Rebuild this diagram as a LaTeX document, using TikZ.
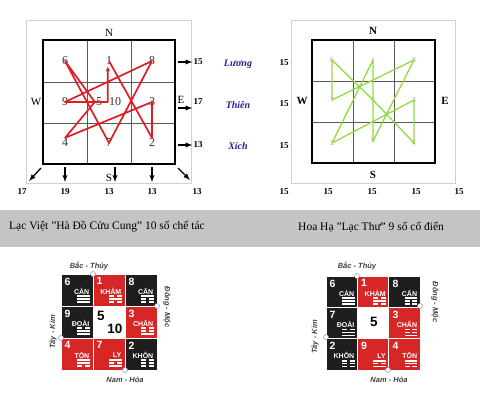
\documentclass[tikz,border=0pt]{standalone}
\usepackage{fontspec}
\setmainfont{Liberation Serif}
\newfontfamily\cungfont{Liberation Sans}
\usetikzlibrary{arrows.meta,positioning}
\definecolor{cungred}{RGB}{214,38,38}
\definecolor{cungblack}{RGB}{30,30,30}
\definecolor{pathred}{RGB}{222,30,36}
\definecolor{pathgreen}{RGB}{146,220,66}
\definecolor{labelblue}{RGB}{32,32,150}
\definecolor{bandgray}{RGB}{196,196,196}
\tikzset{>=latex}
\tikzset{
	frame/.style={draw=black!18, line width=0.9pt},
	board/.style={draw=black, line width=1.4pt},
	gridline/.style={draw=black!65, line width=0.8pt},
	hanum/.style={text=black!80, font=\fontsize{12}{12}\selectfont, inner sep=1pt},
	lacnum/.style={text=black!35, font=\fontsize{7.5}{7.5}\selectfont, inner sep=0.5pt},
	dirlabel/.style={font=\fontsize{11}{11}\selectfont, inner sep=1pt},
	dirbold/.style={font=\bfseries\fontsize{11}{11}\selectfont, inner sep=1pt},
	sumlabel/.style={font=\bfseries\fontsize{9}{9}\selectfont, inner sep=1pt},
	sumarrow/.style={->, line width=1.3pt},
	saolabel/.style={text=labelblue, font=\bfseries\itshape\fontsize{10}{10}\selectfont},
	caption/.style={font=\fontsize{11.5}{11.5}\selectfont, anchor=west, inner sep=0pt},
	cungnum/.style={text=white, font=\cungfont\bfseries\fontsize{10.5}{10.5}\selectfont, inner sep=0pt, anchor=north west},
	cungname/.style={text=white, font=\cungfont\bfseries\fontsize{7}{7}\selectfont, inner sep=0pt, anchor=east},
	hao/.style={draw=white, line width=1.4pt},
	phuong/.style={text=black!75, font=\cungfont\bfseries\itshape\fontsize{7.5}{7.5}\selectfont, inner sep=0pt},
	moc/.style={circle, draw=black!40, fill=white, line width=0.5pt, inner sep=0pt, minimum size=5pt}
}
% one line of a trigram: left end, solid (1) or broken (0)
\newcommand\haoline[3]{%
	\ifnum#3=1
		\draw[hao] (#1,#2) -- ++(12.5,0);
	\else
		\draw[hao] (#1,#2) -- ++(5,0);
		\draw[hao] ({#1+7.5},#2) -- ++(5,0);
	\fi}
% one cell of the bagua board
\newcommand\cungcell[9]{%
	\begin{scope}[shift={({\gx+#1*\gp},{\gy+#2*\gp})}]
		\fill[#3] (0.5,0.5) rectangle ({\gp-0.5},{\gp-0.5});
		\node[cungnum] (#9n#4) at (3.5,3.5) {#4};
		\node[cungname] (#9t#4) at (28.5,17) {#5};
		\haoline{16}{22}{#6}
		\haoline{16}{24.9}{#7}
		\haoline{16}{27.8}{#8}
	\end{scope}}

\begin{document}
\begin{tikzpicture}[x=1pt,y=-1pt]
	\useasboundingbox (0,0) rectangle (480,394);

	% Ha Do board
	\draw[frame] (26,20) rectangle (191,183);
	\draw[gridline] (87,40) -- (87,164) (131,40) -- (131,164) (43,82) -- (175,82) (43,123) -- (175,123);
	\draw[board] (43,40) rectangle (175,164);

	\node[hanum] (h6) at (65,61) {6};
	\node[hanum] (h1) at (109,61) {1};
	\node[hanum] (h8) at (152,61) {8};
	\node[hanum] (h9) at (65,102) {9};
	\node[hanum] (h5) at (99,102) {5};
	\node[hanum] (h10) at (115,102) {10};
	\node[hanum] (h3) at (152,102) {3};
	\node[hanum] (h4) at (65,143) {4};
	\node[hanum] (h7) at (109,143) {7};
	\node[hanum] (h2) at (152,143) {2};

	\draw[pathred, line width=1.7pt, line join=round, -{Latex[length=5pt,width=4.5pt]}]
		(h1.center) -- (h2.north) -- (h3.center) -- (h4.north) -- (h5.west) -- (h6.center)
		-- (h7.center) -- (h8.center) -- (h9.center) -- (h10.west) -- (h10.west |- h1.south);

	\node[dirlabel] (hN) at (109,33) {N};
	\node[dirlabel] (hW) at (36,102) {W};
	\node[dirlabel] (hE) at (181,100) {E};
	\node[dirlabel] (hS) at (109,178) {S};

	% row sums
	\node[sumlabel] (hr1) at (198,62) {15};
	\node[sumlabel] (hr2) at (198,102) {17};
	\node[sumlabel] (hr3) at (198,145) {13};
	\coordinate (ha1) at (178,62);
	\coordinate (ha2) at (178,108);
	\coordinate (ha3) at (178,145);
	\draw[sumarrow] (ha1) -- (hr1.west);
	\draw[sumarrow] (ha2) -- (ha2 -| hr2.west);
	\draw[sumarrow] (ha3) -- (hr3.west);

	% column sums
	\node[sumlabel] (hb1) at (22,192) {17};
	\node[sumlabel] (hb2) at (65,192) {19};
	\node[sumlabel] (hb3) at (109,192) {13};
	\node[sumlabel] (hb4) at (152,192) {13};
	\node[sumlabel] (hb5) at (197,192) {13};
	\coordinate (hc1) at (41,168);
	\coordinate (hc2) at (65,167);
	\coordinate (hc3) at (115,167);
	\coordinate (hc4) at (152,167);
	\coordinate (hc5) at (178,168);
	\draw[sumarrow] (hc1) -- ++(-12,13);
	\draw[sumarrow] (hc2) -- ++(0,15);
	\draw[sumarrow] (hc3) -- ++(0,15);
	\draw[sumarrow] (hc4) -- ++(0,15);
	\draw[sumarrow] (hc5) -- ++(12,12);

	% sao names
	\node[saolabel] (sLuong) at (238,64) {Lương};
	\node[saolabel] (sThien) at (238,105) {Thiên};
	\node[saolabel] (sXich) at (238,146) {Xích};

	% Lac Thu board
	\draw[frame] (291,20) rectangle (455,183);
	\draw[gridline] (353,40) -- (353,163) (394,40) -- (394,163) (312,81) -- (435,81) (312,122) -- (435,122);
	\draw[board] (312,40) rectangle (435,163);

	\node[lacnum] (l6) at (332,60) {6};
	\node[lacnum] (l1) at (373,60) {1};
	\node[lacnum] (l8) at (414,60) {8};
	\node[lacnum] (l7) at (332,100) {7};
	\node[lacnum] (l5) at (373,100) {5};
	\node[lacnum] (l3) at (414,100) {3};
	\node[lacnum] (l2) at (332,143) {2};
	\node[lacnum] (l9) at (373,141) {9};
	\node[lacnum] (l4) at (414,143) {4};

	\draw[pathgreen, line width=1.3pt, line join=round]
		(l1.center) -- (l2.center) -- (l3.center) -- (l4.center) -- (l5.center) -- (l6.center)
		-- (l7.center) -- (l8.center) -- (l9.center) -- cycle;

	\node[dirbold] (lN) at (373,31) {N};
	\node[dirbold] (lW) at (302,101) {W};
	\node[dirbold] (lE) at (445,101) {E};
	\node[dirbold] (lS) at (373,175) {S};

	\node[sumlabel] (lr1) at (284,63) {15};
	\node[sumlabel] (lr2) at (284,104) {15};
	\node[sumlabel] (lr3) at (284,146) {15};
	\node[sumlabel] (lb1) at (284,192) {15};
	\node[sumlabel] (lb2) at (328,192) {15};
	\node[sumlabel] (lb3) at (372,192) {15};
	\node[sumlabel] (lb4) at (416,192) {15};
	\node[sumlabel] (lb5) at (459,192) {15};

	% captions
	\fill[bandgray] (0,210) rectangle (480,247);
	\node[caption] (capHD) at (9,227) {Lạc Việt "Hà Đồ Cửu Cung" 10 số chế tác};
	\node[caption] (capLT) at (298,227) {Hoa Hạ "Lạc Thư" 9 số cổ điển};

	% bagua, Ha Do order
	\def\gx{61}\def\gy{274}\def\gp{32}
	\foreach \c/\r/\col/\num/\name/\ta/\tb/\tc in {
		0/0/cungblack/6/CÀN/1/1/1, 1/0/cungred/1/KHẢM/0/1/0, 2/0/cungblack/8/CẤN/1/0/0,
		0/1/cungblack/9/ĐOÀI/0/1/1, 2/1/cungred/3/CHẤN/0/0/1,
		0/2/cungred/4/TỐN/1/1/0, 1/2/cungred/7/LY/1/0/1, 2/2/cungblack/2/KHÔN/0/0/0}
		{\cungcell{\c}{\r}{\col}{\num}{\name}{\ta}{\tb}{\tc}{hd}}
	\node[cungnum, text=black, font=\cungfont\bfseries\fontsize{13.5}{13.5}\selectfont, anchor=center] (hdc5) at (101,316) {5};
	\node[cungnum, text=black, font=\cungfont\bfseries\fontsize{13.5}{13.5}\selectfont, anchor=center] (hdc10) at (115,329) {10};
	\node[moc] (hdB) at (93,274) {};
	\node[moc] (hdD) at (157,306) {};
	\node[moc] (hdT) at (61,338) {};
	\node[moc] (hdNa) at (125,370) {};
	\node[phuong] (hdBt) at (89,266) {Bắc - Thủy};
	\node[phuong] (hdNt) at (125,380) {Nam - Hỏa};
	\node[phuong, rotate=-90] (hdDt) at (167,307) {Đông - Mộc};
	\node[phuong, rotate=90] (hdTt) at (53,332) {Tây - Kim};

	% bagua, Lac Thu order
	\def\gx{326}\def\gy{276}\def\gp{31.4}
	\foreach \c/\r/\col/\num/\name/\ta/\tb/\tc in {
		0/0/cungblack/6/CÀN/1/1/1, 1/0/cungred/1/KHẢM/0/1/0, 2/0/cungblack/8/CẤN/1/0/0,
		0/1/cungblack/7/ĐOÀI/0/1/1, 2/1/cungred/3/CHẤN/0/0/1,
		0/2/cungblack/2/KHÔN/0/0/0, 1/2/cungred/9/LY/1/0/1, 2/2/cungred/4/TỐN/1/1/0}
		{\cungcell{\c}{\r}{\col}{\num}{\name}{\ta}{\tb}{\tc}{lt}}
	\node[cungnum, text=black, font=\cungfont\bfseries\fontsize{13.5}{13.5}\selectfont, anchor=center] (ltc5) at (374,322) {5};
	\node[moc] (ltB) at (357,276) {};
	\node[moc] (ltD) at (420,306) {};
	\node[moc] (ltT) at (326,337) {};
	\node[moc] (ltNa) at (388,370) {};
	\node[phuong] (ltBt) at (357,266) {Bắc - Thủy};
	\node[phuong] (ltNt) at (389,380) {Nam - Hỏa};
	\node[phuong, rotate=-90] (ltDt) at (435,302) {Đông - Mộc};
	\node[phuong, rotate=90] (ltTt) at (315,337) {Tây - Kim};
\end{tikzpicture}
\end{document}
